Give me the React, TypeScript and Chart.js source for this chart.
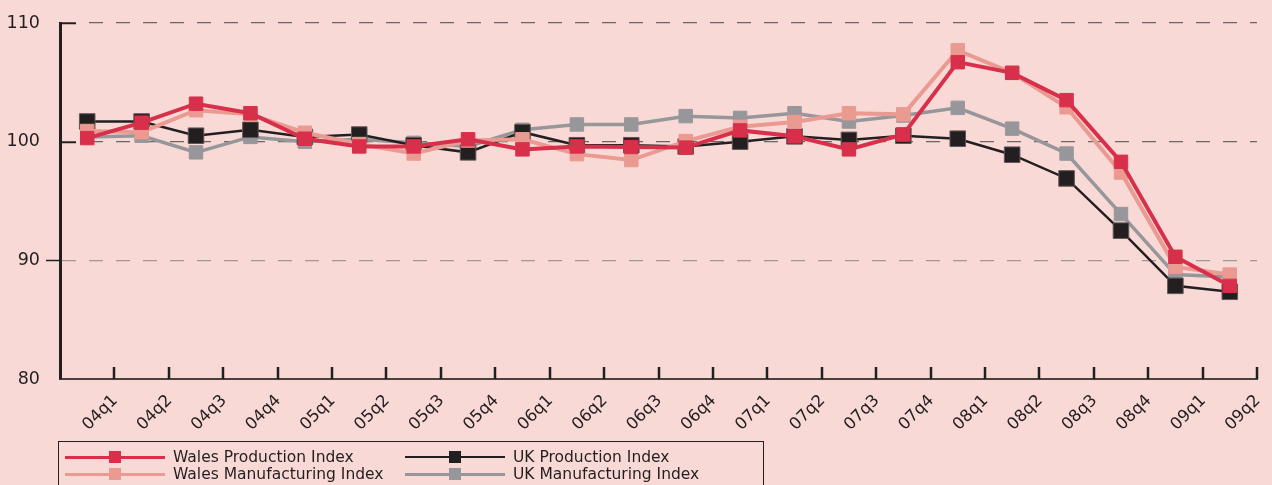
import React, { useEffect, useRef } from "react";
import { Chart, registerables } from "chart.js";

Chart.register(...registerables);

// ---- data ----
const quarters = [
  "04q1", "04q2", "04q3", "04q4",
  "05q1", "05q2", "05q3", "05q4",
  "06q1", "06q2", "06q3", "06q4",
  "07q1", "07q2", "07q3", "07q4",
  "08q1", "08q2", "08q3", "08q4",
  "09q1", "09q2",
];

const walesProduction = [
  100.3, 101.6, 103.2, 102.4, 100.25, 99.6, 99.6, 100.2, 99.35, 99.6, 99.55,
  99.5, 100.95, 100.45, 99.35, 100.6, 106.7, 105.8, 103.5, 98.3, 90.3, 87.85,
];
const walesManufacturing = [
  100.9, 100.8, 102.65, 102.3, 100.75, 99.8, 99.0, 100.1, 100.2, 98.95, 98.45,
  100.05, 101.25, 101.65, 102.4, 102.3, 107.7, 105.8, 102.9, 97.4, 89.45, 88.8,
];
const ukProduction = [
  101.7, 101.7, 100.5, 101.0, 100.4, 100.6, 99.7, 99.1, 100.8, 99.7, 99.7,
  99.6, 100.0, 100.45, 100.15, 100.5, 100.25, 98.9, 96.9, 92.5, 87.85, 87.35,
];
const ukManufacturing = [
  100.4, 100.5, 99.1, 100.4, 100.0, 100.2, 99.9, 99.6, 101.0, 101.45, 101.45,
  102.15, 102.0, 102.4, 101.7, 102.2, 102.85, 101.1, 99.0, 93.9, 88.8, 88.6,
];

const yTickValues = [80, 90, 100, 110];

const seriesNames = [
  "Wales Production Index",
  "Wales Manufacturing Index",
  "UK Production Index",
  "UK Manufacturing Index",
];

// ---- styles ----
const BG = "#f8d9d5";
const INK = "#231f20";
const FONT = "'DejaVu Sans', Verdana, sans-serif";

const seriesStyles = [
  { color: "#d8304b", border: "#d8304b", width: 4, radius: 9.5, legendWidth: 3 },
  { color: "#eb9a92", border: "#eb9a92", width: 4, radius: 9.5, legendWidth: 3 },
  { color: "#231f20", border: "#625758", width: 2.5, radius: 11, legendWidth: 2.5 },
  { color: "#97979b", border: "#97979b", width: 3.5, radius: 9.5, legendWidth: 3 },
];
const seriesData = [walesProduction, walesManufacturing, ukProduction, ukManufacturing];

// legend layout: [series index, column, row]
const legendSlots = [
  [0, 0, 0],
  [2, 1, 0],
  [1, 0, 1],
  [3, 1, 1],
];

const axisMarksPlugin = {
  id: "axisMarks",
  afterDraw(chart: any) {
    const x = chart.scales.x;
    const y = chart.scales.y;
    const ctx = chart.ctx;
    const { bottom, left } = chart.chartArea;
    ctx.save();
    ctx.strokeStyle = INK;
    // x-axis tick marks pointing up into the plot, at category boundaries
    ctx.lineWidth = 2.5;
    for (let i = 1; i <= quarters.length; i++) {
      const px = Math.round(x.getPixelForValue(i - 0.5));
      ctx.beginPath();
      ctx.moveTo(px, bottom);
      ctx.lineTo(px, bottom - 12);
      ctx.stroke();
    }
    // short solid stubs on the y axis
    ctx.lineWidth = 1.5;
    [110, 100].forEach((v) => {
      const py = Math.round(y.getPixelForValue(v)) + 0.5;
      ctx.beginPath();
      ctx.moveTo(left, py);
      ctx.lineTo(left + 16, py);
      ctx.stroke();
    });
    {
      const py = Math.round(y.getPixelForValue(90)) + 0.5;
      ctx.beginPath();
      ctx.moveTo(left - 14, py);
      ctx.lineTo(left, py);
      ctx.stroke();
    }
    ctx.restore();
  },
};

export default function App() {
  const canvasRef = useRef<HTMLCanvasElement | null>(null);

  useEffect(() => {
    document.body.style.margin = "0";
    const canvas = canvasRef.current;
    if (!canvas) return;
    const chart = new Chart(canvas, {
      type: "line",
      data: {
        labels: quarters,
        datasets: seriesData.map((d, i) => ({
          label: seriesNames[i],
          data: d,
          borderColor: seriesStyles[i].color,
          backgroundColor: seriesStyles[i].color,
          borderWidth: seriesStyles[i].width,
          pointStyle: "rect",
          pointRadius: seriesStyles[i].radius,
          pointBorderWidth: 1,
          pointBorderColor: seriesStyles[i].border,
          pointBackgroundColor: seriesStyles[i].color,
          tension: 0,
          fill: false,
        })),
      },
      options: {
        animation: false,
        responsive: false,
        maintainAspectRatio: false,
        layout: { padding: { left: 0, right: 15, top: 23, bottom: 0 } },
        plugins: {
          legend: { display: false },
          tooltip: { enabled: false },
        },
        scales: {
          x: {
            type: "category",
            offset: true,
            grid: { display: false, offset: true },
            border: { display: true, color: "#4a4041", width: 2 },
            ticks: {
              autoSkip: false,
              minRotation: 45,
              maxRotation: 45,
              labelOffset: 28,
              padding: 4,
              color: INK,
              font: { family: FONT, size: 16.5 },
            },
            afterFit: (s: any) => {
              s.height = 106;
            },
          },
          y: {
            min: 80,
            max: 110,
            afterBuildTicks: (s: any) => {
              s.ticks = yTickValues.map((v) => ({ value: v }));
            },
            grid: {
              drawTicks: false,
              lineWidth: 1.3,
              color: (ctx: any) => {
                const v = ctx.tick ? ctx.tick.value : 0;
                if (v === 80) return "rgba(0,0,0,0)";
                if (v === 90) return "#a39898";
                return "#6c6565";
              },
            },
            border: { display: true, color: INK, width: 3, dash: [14, 13] },
            ticks: {
              padding: 20,
              color: INK,
              font: { family: FONT, size: 17.5 },
            },
            afterFit: (s: any) => {
              s.width = 60;
              s.paddingTop = 0;
              s.paddingBottom = 0;
            },
          },
        },
      },
      plugins: [axisMarksPlugin],
    });
    return () => chart.destroy();
  }, []);

  return (
    <div
      style={{
        position: "absolute",
        left: 0,
        top: 0,
        width: 1272,
        height: 485,
        overflow: "hidden",
        background: BG,
        fontFamily: FONT,
      }}
    >
      <canvas ref={canvasRef} width={1272} height={485} style={{ display: "block" }} />
      <div
        style={{
          position: "absolute",
          left: 58,
          top: 441,
          width: 706,
          height: 60,
          border: `1.5px solid ${INK}`,
          boxSizing: "border-box",
        }}
      >
        {legendSlots.map(([si, col, row]) => {
          const st = seriesStyles[si];
          const left = col === 0 ? 6 : 346;
          const cy = row === 0 ? 15 : 32;
          return (
            <div key={si}>
              <div
                style={{
                  position: "absolute",
                  left,
                  top: cy - st.legendWidth / 2,
                  width: 100,
                  height: st.legendWidth,
                  background: st.color,
                }}
              />
              <div
                style={{
                  position: "absolute",
                  left: left + 44,
                  top: cy - 6,
                  width: 12,
                  height: 12,
                  background: st.color,
                }}
              />
              <div
                style={{
                  position: "absolute",
                  left: left + 108,
                  top: cy - 10,
                  height: 20,
                  lineHeight: "20px",
                  fontSize: 15.5,
                  color: INK,
                  whiteSpace: "nowrap",
                }}
              >
                {seriesNames[si]}
              </div>
            </div>
          );
        })}
      </div>
    </div>
  );
}
